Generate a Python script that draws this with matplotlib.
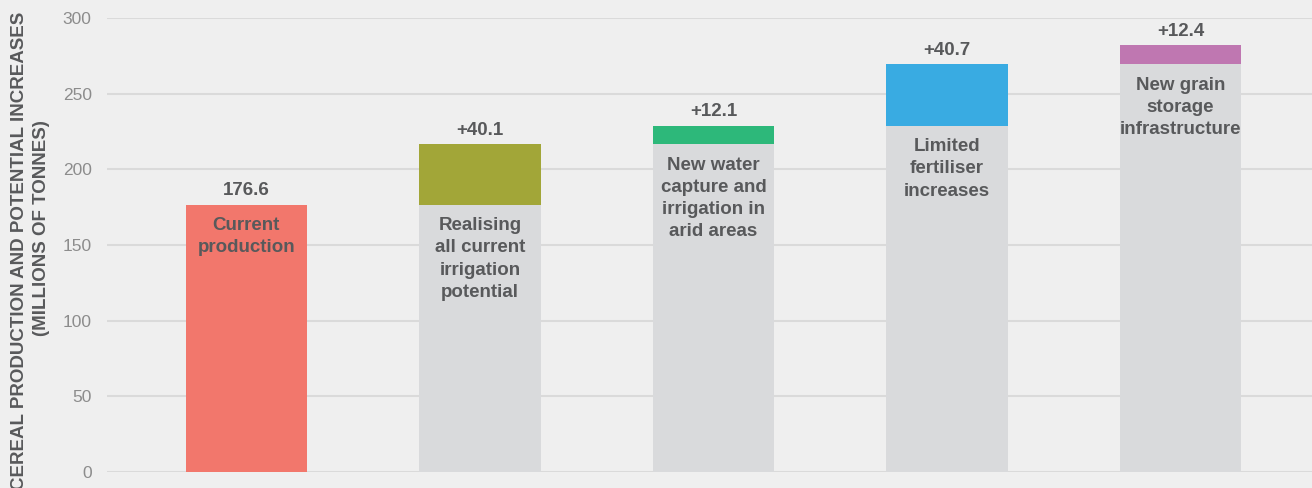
import numpy as np
import matplotlib
matplotlib.use("Agg")
import matplotlib.pyplot as plt

font = {'family': 'Liberation Sans', 'size': 13.5}
matplotlib.rc('font', **font)

# data
steps = ["Current\nproduction",
         "Realising\nall current\nirrigation\npotential",
         "New water\ncapture and\nirrigation in\narid areas",
         "Limited\nfertiliser\nincreases",
         "New grain\nstorage\ninfrastructure"]
increments = [176.6, 40.1, 12.1, 40.7, 12.4]
value_labels = ["176.6", "+40.1", "+12.1", "+40.7", "+12.4"]
step_colors = ['#f2776c', '#a2a638', '#2db87a', '#39abe2', '#bf77b1']

bg = '#efefef'
txt = '#58595b'

ind = np.arange(len(steps))
width = 0.52
base = np.concatenate([[0], np.cumsum(increments)[:-1]])
top = base + np.array(increments)

fig = plt.figure(figsize=(13.12, 4.88), dpi=100, facecolor=bg)
ax = fig.add_axes([107/1312, 16/488, 1205/1312, 454/488], facecolor=bg)

# grey base part under each increment
ax.bar(ind[1:], base[1:], width, color='#d9dadc', zorder=2)
ax.bar(ind, increments, width, bottom=base, color=step_colors, zorder=2)

for i in ind:
    ax.annotate(value_labels[i], (i, top[i]), xytext=(0, 4), textcoords='offset points',
                ha='center', va='bottom', fontsize=13.5, fontweight='bold', color=txt)
    ax.annotate(steps[i], (i, base[i] if i > 0 else top[i]), xytext=(0, -9),
                textcoords='offset points', ha='center', va='top', fontsize=13.5,
                fontweight='bold', color=txt, linespacing=1.4, zorder=3)

ax.set_xlim(-0.597, 4.563)
ax.set_ylim(0, 300)
ax.set_yticks(np.arange(0, 301, 50))
ax.set_xticks([])
ax.tick_params(axis='y', length=0, pad=11, labelsize=12.5, labelcolor='#8c8c8c')
ax.grid(axis='y', color='#dadada', lw=1.5, zorder=0)
ax.set_axisbelow(True)
for s in ax.spines.values():
    s.set_visible(False)

fig.text(20/1312, 1 - 251/488, "CEREAL PRODUCTION AND POTENTIAL INCREASES", rotation=90,
         ha='center', va='center', fontsize=13.5, fontweight='bold', color=txt)
fig.text(42/1312, 1 - 228/488, "(MILLIONS OF TONNES)", rotation=90,
         ha='center', va='center', fontsize=13.5, fontweight='bold', color=txt)

fig.savefig('out.png', dpi=100, facecolor=bg)
